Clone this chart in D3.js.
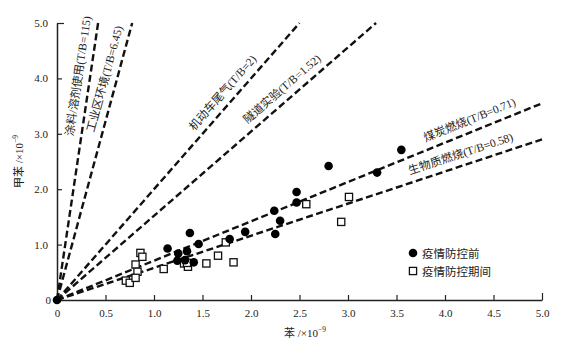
<!DOCTYPE html>
<html>
<head>
<meta charset="utf-8">
<script src="https://cdn.jsdelivr.net/npm/d3@7"></script>
<style>
  body { margin: 0; background: #fff; }
  svg { display: block; }
  text { font-family: "Liberation Serif", "Noto Sans CJK SC", serif; fill: #222; }
</style>
</head>
<body>
<svg id="chart" width="580" height="351"></svg>
<script>
// ratio lines (label, drawn slope, where the label sits along x)
const lineLabels = ["涂料/溶剂使用(T/B=115)", "工业区环境(T/B=6.45)", "机动车尾气(T/B=2)",
  "隧道实验(T/B=1.52)", "煤炭燃烧(T/B=0.71)", "生物质燃烧(T/B=0.58)"];
const lineSlopes = [11.8, 6.45, 2, 1.52, 0.71, 0.58];
const labelAt = [0.34, 0.61, 1.8, 2.4, 4.3, 4.2];

// before control (filled circles)
const beforeX = [0, 1.14, 1.37, 1.46, 1.25, 1.34, 1.24, 1.32, 1.41, 1.78, 1.94, 2.24, 2.30, 2.25, 2.47, 2.47, 2.80, 3.30, 3.55];
const beforeY = [0, 0.93, 1.21, 1.01, 0.84, 0.88, 0.71, 0.72, 0.68, 1.10, 1.23, 1.61, 1.43, 1.19, 1.95, 1.76, 2.42, 2.30, 2.71];

// during control (open squares)
const duringX = [0.71, 0.75, 0.86, 0.88, 0.81, 0.83, 0.81, 1.10, 1.31, 1.35, 1.34, 1.54, 1.66, 1.74, 1.82, 2.57, 2.93, 3.01];
const duringY = [0.35, 0.31, 0.85, 0.78, 0.64, 0.51, 0.40, 0.56, 0.66, 0.60, 0.67, 0.66, 0.80, 1.04, 0.68, 1.73, 1.41, 1.86];

const xTicks = [0, 0.5, 1, 1.5, 2, 2.5, 3, 3.5, 4, 4.5, 5];
const yTicks = [0, 1, 2, 3, 4, 5];
const legendNames = ["疫情防控前", "疫情防控期间"];

const svg = d3.select("#chart");
const x = d3.scaleLinear().domain([0, 5]).range([57, 542]);
const y = d3.scaleLinear().domain([0, 5]).range([300, 23]);
const fmt = v => (v === 0 ? "0" : d3.format(".1f")(v));

// axes
const xAxis = d3.axisBottom(x).tickValues(xTicks).tickFormat(fmt).tickSizeInner(-5).tickSizeOuter(0).tickPadding(9);
const yAxis = d3.axisLeft(y).tickValues(yTicks).tickFormat(fmt).tickSizeInner(-5).tickSizeOuter(0).tickPadding(9);

const xg = svg.append("g").attr("transform", `translate(0,${y(0)})`).call(xAxis);
const yg = svg.append("g").attr("transform", `translate(${x(0)},0)`).call(yAxis);
[xg, yg].forEach(g => {
  g.select(".domain").attr("stroke", "#222").attr("stroke-width", 1.5);
  g.selectAll(".tick line").attr("stroke", "#222").attr("stroke-width", 1.2);
  g.selectAll(".tick text").attr("font-size", 11).attr("fill", "#333")
    .attr("font-family", "Liberation Serif");
});
yg.selectAll(".tick").filter(d => d === 0).remove();
// end caps
xg.selectAll(".tick").filter(d => d === 5).select("line").attr("y2", -7);
yg.selectAll(".tick").filter(d => d === 5).select("line").attr("x2", 7);
xg.selectAll(".tick").filter(d => d === 0).select("line").remove();

// y-axis "0" label
svg.append("text").attr("x", x(0) - 6).attr("y", y(0) + 4)
  .attr("text-anchor", "end").attr("font-size", 11).attr("fill", "#333").text("0");

// ratio lines
const lines = svg.append("g");
lineSlopes.forEach((s, i) => {
  const xEnd = Math.min(5, 5 / s);
  lines.append("line")
    .attr("x1", x(0)).attr("y1", y(0))
    .attr("x2", x(xEnd)).attr("y2", y(xEnd * s))
    .attr("stroke", "#111").attr("stroke-width", 2.4)
    .attr("stroke-dasharray", "7,3.5");

  const ang = Math.atan2(y(0) - y(s), x(1) - x(0)) * 180 / Math.PI;
  const lx = labelAt[i];
  lines.append("text")
    .attr("transform", `translate(${x(lx)},${y(lx * s)}) rotate(${-ang})`)
    .attr("text-anchor", "middle")
    .attr("dy", -8)
    .attr("font-size", 11.5)
    .text(lineLabels[i]);
});

// points
const pts = svg.append("g");
pts.selectAll("rect")
  .data(d3.range(duringX.length))
  .join("rect")
  .attr("x", i => x(duringX[i]) - 3.6)
  .attr("y", i => y(duringY[i]) - 3.6)
  .attr("width", 7.2).attr("height", 7.2)
  .attr("fill", "#fff").attr("stroke", "#111").attr("stroke-width", 1.3);

pts.selectAll("circle")
  .data(d3.range(beforeX.length))
  .join("circle")
  .attr("cx", i => x(beforeX[i]))
  .attr("cy", i => y(beforeY[i]))
  .attr("r", 4.3)
  .attr("fill", "#000");

// legend
const leg = svg.append("g").attr("transform", "translate(413,253)");
leg.append("circle").attr("cx", 0).attr("cy", 0).attr("r", 4.3).attr("fill", "#000");
leg.append("rect").attr("x", -3.6).attr("y", 18 - 3.6).attr("width", 7.2).attr("height", 7.2)
  .attr("fill", "#fff").attr("stroke", "#111").attr("stroke-width", 1.3);
legendNames.forEach((n, i) => {
  leg.append("text").attr("x", 9).attr("y", i * 18 + 4.5)
    .attr("font-size", 11.5).attr("font-family", "Noto Sans CJK SC").text(n);
});

// axis titles
const xt = svg.append("text").attr("x", 305).attr("y", 337).attr("text-anchor", "middle").attr("font-size", 11);
xt.append("tspan").attr("font-family", "Noto Sans CJK SC").text("苯");
xt.append("tspan").text(" /×10");
xt.append("tspan").attr("font-size", 7.5).attr("dy", -5).text("−9");

const yt = svg.append("text").attr("transform", `translate(23,${(y(0) + y(5)) / 2}) rotate(-90)`)
  .attr("text-anchor", "middle").attr("font-size", 11);
yt.append("tspan").attr("font-family", "Noto Sans CJK SC").text("甲苯");
yt.append("tspan").text(" /×10");
yt.append("tspan").attr("font-size", 7.5).attr("dy", -5).text("−9");
</script>
</body>
</html>
